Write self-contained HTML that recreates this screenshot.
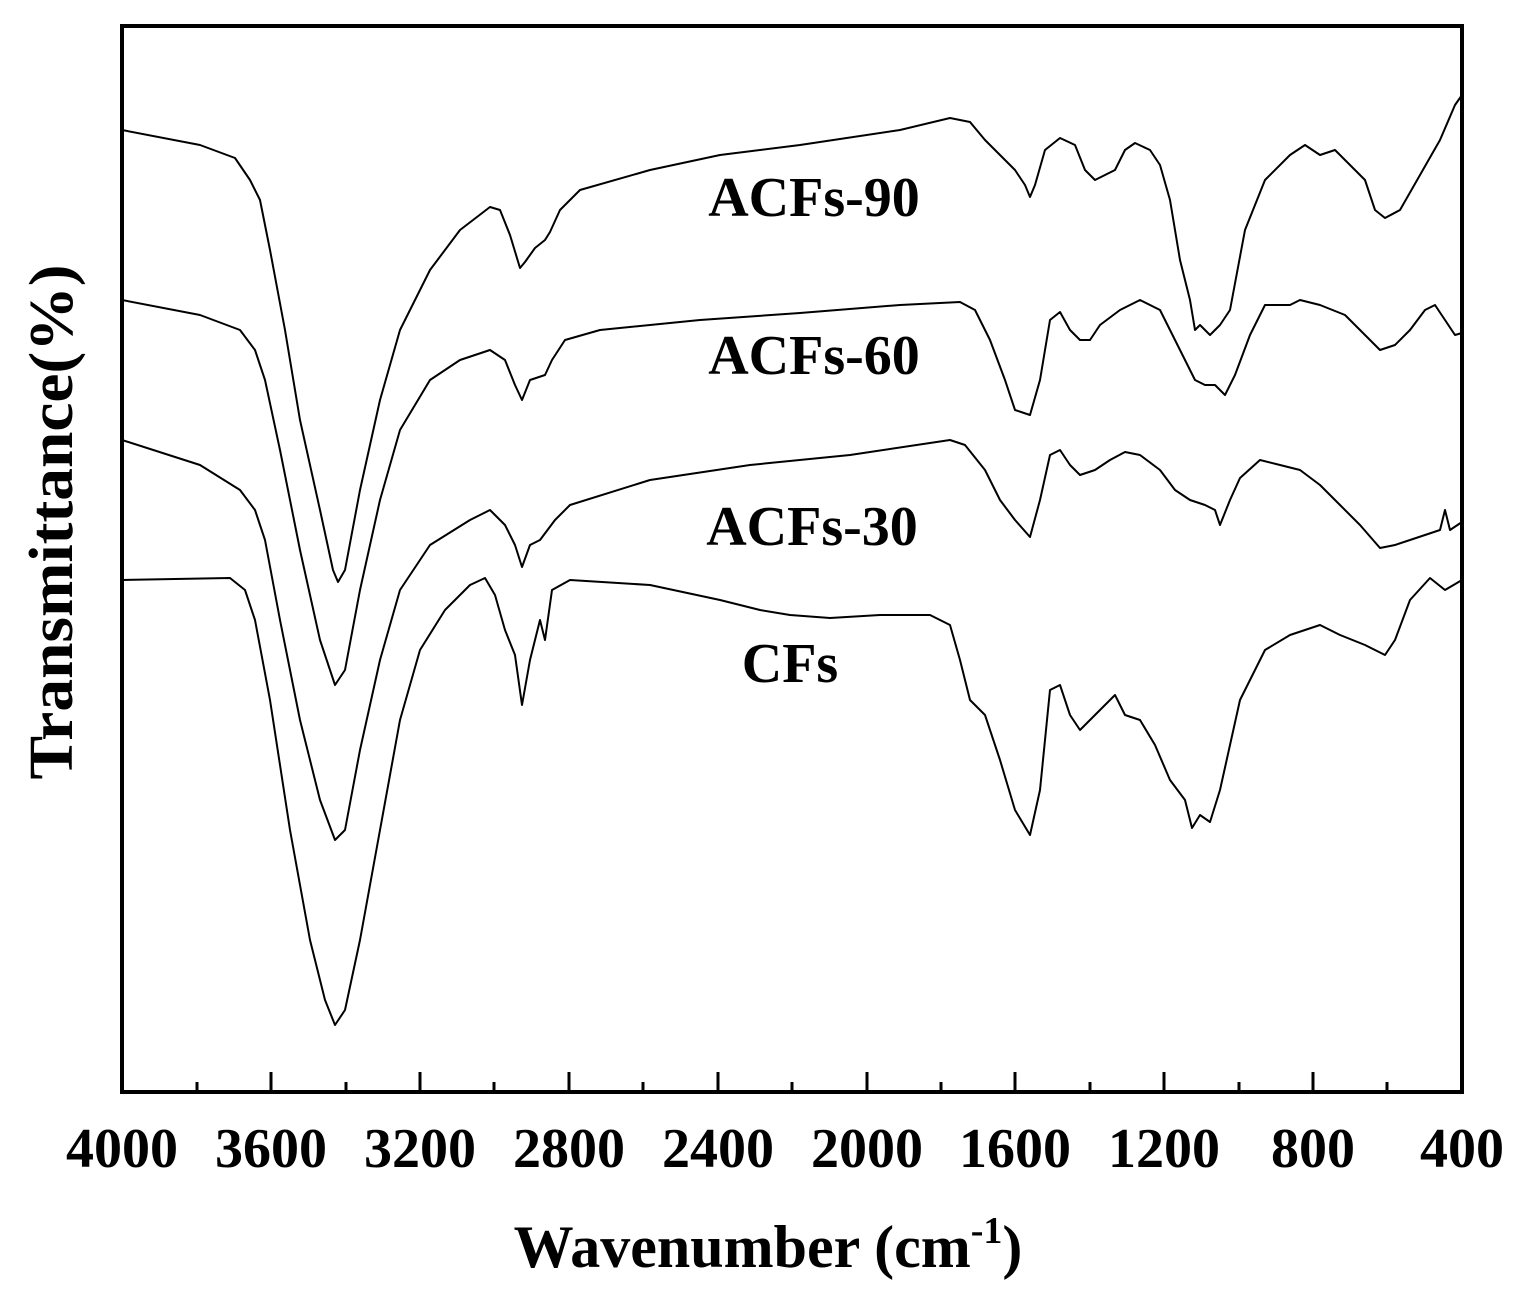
<!DOCTYPE html>
<html><head><style>html,body{margin:0;padding:0;background:#fff}</style></head>
<body>
<svg width="1522" height="1301" viewBox="0 0 1522 1301" xmlns="http://www.w3.org/2000/svg" font-family="Liberation Serif, serif" font-weight="bold">
<rect x="122" y="26" width="1340" height="1066" fill="none" stroke="#000" stroke-width="4"/>
<g stroke="#000" stroke-width="3">
<line x1="197" y1="1092" x2="197" y2="1082"/><line x1="271" y1="1092" x2="271" y2="1072"/>
<line x1="346" y1="1092" x2="346" y2="1082"/><line x1="420" y1="1092" x2="420" y2="1072"/>
<line x1="494" y1="1092" x2="494" y2="1082"/><line x1="569" y1="1092" x2="569" y2="1072"/>
<line x1="643" y1="1092" x2="643" y2="1082"/><line x1="718" y1="1092" x2="718" y2="1072"/>
<line x1="792" y1="1092" x2="792" y2="1082"/><line x1="867" y1="1092" x2="867" y2="1072"/>
<line x1="941" y1="1092" x2="941" y2="1082"/><line x1="1015" y1="1092" x2="1015" y2="1072"/>
<line x1="1090" y1="1092" x2="1090" y2="1082"/><line x1="1164" y1="1092" x2="1164" y2="1072"/>
<line x1="1239" y1="1092" x2="1239" y2="1082"/><line x1="1313" y1="1092" x2="1313" y2="1072"/>
<line x1="1387" y1="1092" x2="1387" y2="1082"/>
</g>
<g font-size="56" text-anchor="middle">
<text x="122" y="1167">4000</text><text x="271" y="1167">3600</text><text x="420" y="1167">3200</text>
<text x="569" y="1167">2800</text><text x="718" y="1167">2400</text><text x="867" y="1167">2000</text>
<text x="1015" y="1167">1600</text><text x="1164" y="1167">1200</text><text x="1313" y="1167">800</text>
<text x="1462" y="1167">400</text>
</g>
<text x="768" y="1267" font-size="60" text-anchor="middle">Wavenumber (cm<tspan font-size="38" dy="-24">-1</tspan><tspan dy="24">)</tspan></text>
<text transform="translate(72,522) rotate(-90)" font-size="62" text-anchor="middle" textLength="515" lengthAdjust="spacingAndGlyphs">Transmittance(%)</text>
<g font-size="56" text-anchor="middle">
<text x="814" y="216">ACFs-90</text><text x="814" y="374">ACFs-60</text>
<text x="812" y="545">ACFs-30</text><text x="790" y="682">CFs</text>
</g>
<g fill="none" stroke="#000" stroke-width="2" stroke-linejoin="round">
<polyline points="122,130 200,145 235,158 250,180 260,200 270,250 285,330 300,420 320,510 333,570 338,582 345,570 360,490 380,400 400,330 430,270 460,230 490,207 500,210 510,235 520,268 525,262 535,248 545,240 550,232 560,210 580,190 650,170 720,155 800,145 900,130 950,118 970,122 985,140 1000,155 1015,170 1025,185 1030,197 1035,185 1045,150 1060,138 1075,145 1085,170 1095,180 1105,175 1115,170 1125,150 1135,143 1150,150 1160,165 1170,200 1180,260 1190,300 1195,330 1200,325 1210,335 1220,325 1230,310 1245,230 1265,180 1290,155 1305,145 1320,155 1335,150 1350,165 1365,180 1375,210 1385,218 1400,210 1420,175 1440,140 1455,105 1462,95"/>
<polyline points="122,300 200,315 240,330 255,350 265,380 280,450 300,550 320,640 335,685 345,670 360,590 380,500 400,430 430,380 460,360 490,350 505,360 515,385 522,400 530,380 545,375 552,360 565,340 600,330 700,320 800,313 900,305 960,302 975,310 990,340 1005,380 1015,410 1030,415 1040,380 1050,320 1060,312 1070,330 1080,340 1090,340 1100,325 1120,310 1140,300 1160,310 1170,330 1185,360 1195,380 1205,385 1215,385 1225,395 1235,375 1250,335 1265,305 1290,305 1300,300 1320,305 1345,315 1360,330 1380,350 1395,345 1410,330 1425,310 1435,305 1445,320 1455,335 1462,333"/>
<polyline points="122,440 200,465 240,490 255,510 265,540 280,620 300,720 320,800 335,840 345,830 360,750 380,660 400,590 430,545 470,520 490,510 505,525 515,545 522,567 530,545 540,540 555,520 570,505 650,480 750,465 850,455 950,440 965,445 985,470 1000,500 1015,520 1030,537 1040,500 1050,455 1060,450 1070,465 1080,475 1095,470 1110,460 1125,452 1140,455 1160,470 1175,490 1190,500 1205,505 1215,510 1220,525 1230,500 1240,478 1260,460 1280,465 1300,470 1320,485 1340,505 1360,525 1380,548 1395,545 1410,540 1425,535 1440,530 1445,510 1450,530 1462,522"/>
<polyline points="122,580 230,578 245,590 255,620 270,700 290,830 310,940 325,1000 335,1025 345,1010 360,940 380,830 400,720 420,650 445,610 470,585 485,578 495,595 505,630 515,655 522,705 530,660 540,620 545,640 552,590 570,580 650,585 720,600 740,605 760,610 790,615 830,618 880,615 930,615 950,625 960,660 970,700 985,715 1000,760 1015,810 1030,835 1040,790 1050,690 1060,685 1070,715 1080,730 1100,710 1115,695 1125,715 1140,720 1155,745 1170,780 1185,800 1192,828 1200,815 1210,822 1220,790 1240,700 1265,650 1290,635 1320,625 1340,635 1365,645 1385,655 1395,640 1410,600 1430,578 1445,590 1462,580"/>
</g>
</svg>
</body></html>
